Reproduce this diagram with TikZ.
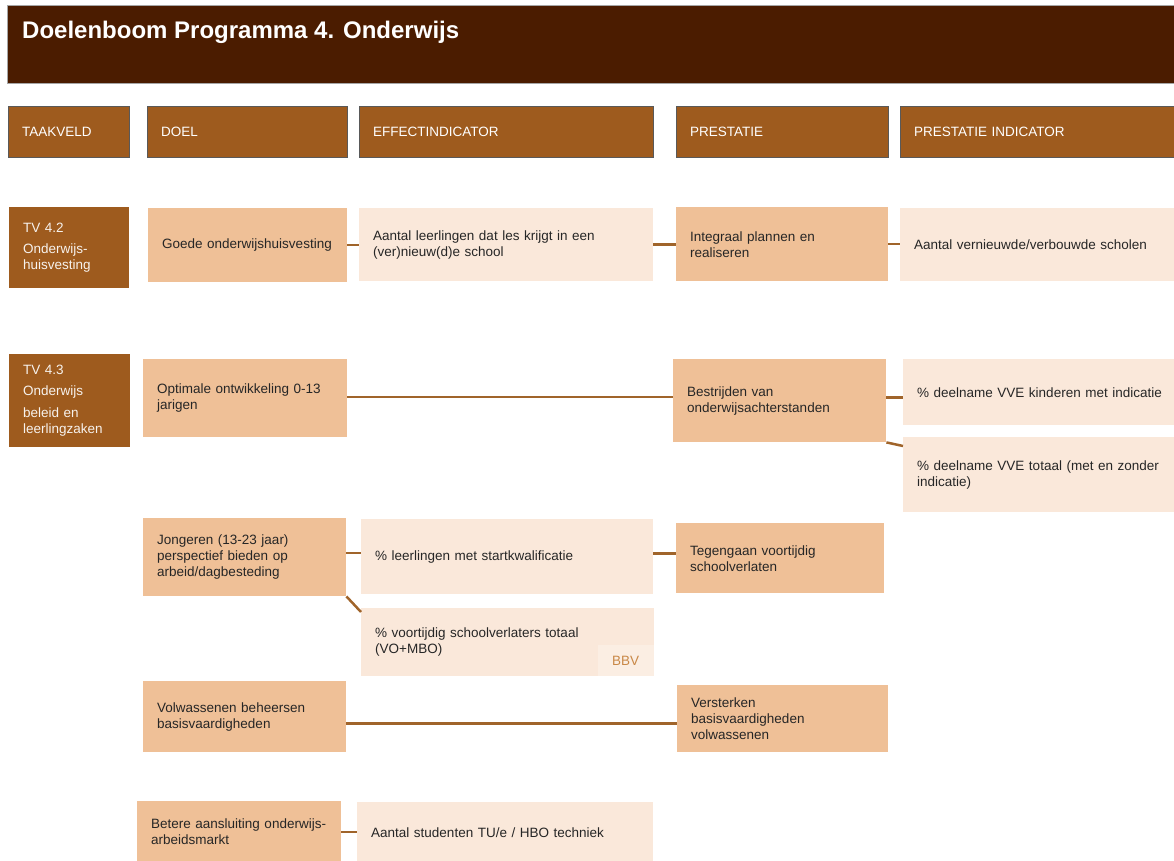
\documentclass[tikz,border=0pt]{standalone}
\usepackage{fontspec}
\setmainfont{Liberation Sans}
\definecolor{titel}{HTML}{4B1C00}
\definecolor{kop}{HTML}{9E5B1E}
\definecolor{doel}{HTML}{EFC097}
\definecolor{indic}{HTML}{FAE8DA}
\definecolor{lijn}{HTML}{A0642A}
\definecolor{tekst}{HTML}{262626}
\definecolor{bbvtekst}{HTML}{C98847}

\begin{document}
\begin{tikzpicture}[x=1pt,y=-1pt]
	\tikzstyle{box}=[anchor=north west,inner xsep=14pt,inner ysep=0pt,align=left,font=\fontsize{13.5}{16}\selectfont]
	\tikzstyle{kopbox}=[box,fill=kop,draw=black!65,text=white]
	\tikzstyle{tv}=[box,fill=kop,text=white!92!kop]
	\tikzstyle{doelbox}=[box,fill=doel,text=tekst]
	\tikzstyle{indbox}=[box,fill=indic,text=tekst]
	\tikzstyle{link}=[draw=lijn,line width=2.5pt]
	\tikzset{maat/.style 2 args={minimum width=#1,minimum height=#2,text width=#1-28}}

	\useasboundingbox (0,0) rectangle (1174,861);

	\draw[fill=titel,draw=black!35] (7,5) rectangle (1190,83);
	\node[anchor=west,inner sep=0pt,text=white,font=\bfseries\fontsize{24}{28}\selectfont] (titel) at (22,32) {Doelenboom Programma 4. Onderwijs};

	\node[kopbox,maat={121}{51}] (kTaak) at (8,106) {TAAKVELD};
	\node[kopbox,maat={200}{51}] (kDoel) at (147,106) {DOEL};
	\node[kopbox,maat={294}{51}] (kEffect) at (359,106) {EFFECTINDICATOR};
	\node[kopbox,maat={212}{51}] (kPrest) at (676,106) {PRESTATIE};
	\node[kopbox,maat={290}{51}] (kPrestInd) at (900,106) {PRESTATIE INDICATOR};

	\node[tv,maat={120}{81}] (tv42) at (9,207) {TV 4.2\\[5pt]Onderwijs-\\huisvesting};
	\node[doelbox,maat={199}{74}] (goede) at (148,208) {Goede onderwijshuisvesting};
	\node[indbox,maat={294}{73}] (leerlingen) at (359,208) {Aantal leerlingen dat les krijgt in een\\(ver)nieuw(d)e school};
	\node[doelbox,maat={212}{74}] (integraal) at (676,207) {Integraal plannen en\\realiseren};
	\node[indbox,maat={290}{73}] (scholen) at (900,208) {Aantal vernieuwde/verbouwde scholen};

	\node[tv,maat={121}{93}] (tv43) at (9,354) {TV 4.3\\[5pt]Onderwijs\\[6pt]beleid en\\leerlingzaken};
	\node[doelbox,maat={204}{78}] (optimaal) at (143,359) {Optimale ontwikkeling 0-13\\jarigen};
	\node[doelbox,maat={213}{83}] (bestrijden) at (673,359) {Bestrijden van\\onderwijsachterstanden};
	\node[indbox,maat={290}{66}] (vveInd) at (903,359) {\% deelname VVE kinderen met indicatie};
	\node[indbox,maat={290}{75}] (vveTot) at (903,437) {\% deelname VVE totaal (met en zonder\\indicatie)};

	\node[doelbox,maat={203}{78}] (jongeren) at (143,518) {Jongeren (13-23 jaar)\\perspectief bieden op\\arbeid/dagbesteding};
	\node[indbox,maat={292}{75}] (startkw) at (361,519) {\% leerlingen met startkwalificatie};
	\node[doelbox,maat={208}{70}] (tegengaan) at (676,523) {Tegengaan voortijdig\\schoolverlaten};
	\node[indbox,maat={293}{68}] (voortijdig) at (361,608) {\% voortijdig schoolverlaters totaal\\(VO+MBO)};
	\node[box,fill=indic!75!white,text=bbvtekst,inner xsep=13pt,maat={56}{31}] (bbv) at (598,645) {BBV};

	\node[doelbox,maat={203}{71}] (volw) at (143,681) {Volwassenen beheersen\\basisvaardigheden};
	\node[doelbox,maat={211}{67}] (versterken) at (677,685) {Versterken\\basisvaardigheden\\volwassenen};

	\node[doelbox,maat={204}{60}] (betere) at (137,801) {Betere aansluiting onderwijs-\\arbeidsmarkt};
	\node[indbox,maat={296}{60}] (studenten) at (357,802) {Aantal studenten TU/e / HBO techniek};

	\draw[link] (goede.east) -- (goede.east -| leerlingen.west);
	\draw[link] (leerlingen.east) -- (leerlingen.east -| integraal.west);
	\draw[link] (integraal.east) -- (integraal.east -| scholen.west);
	\draw[link] ([yshift=1pt]optimaal.east) -- ([yshift=1pt]optimaal.east -| bestrijden.west);
	\draw[link] ([yshift=3pt]bestrijden.east) -- ([yshift=3pt]bestrijden.east -| vveInd.west);
	\draw[link] (bestrijden.south east) -- ([yshift=-9pt]vveTot.north west);
	\draw[link] ([yshift=4pt]jongeren.east) -- ([yshift=4pt]jongeren.east -| startkw.west);
	\draw[link] ([yshift=3pt]startkw.east) -- ([yshift=3pt]startkw.east -| tegengaan.west);
	\draw[link] (jongeren.south east) -- ([yshift=-4pt]voortijdig.north west);
	\draw[link] ([yshift=-7pt]volw.east) -- ([yshift=-7pt]volw.east -| versterken.west);
	\draw[link] ([yshift=-1pt]betere.east) -- ([yshift=-1pt]betere.east -| studenten.west);
\end{tikzpicture}
\end{document}
